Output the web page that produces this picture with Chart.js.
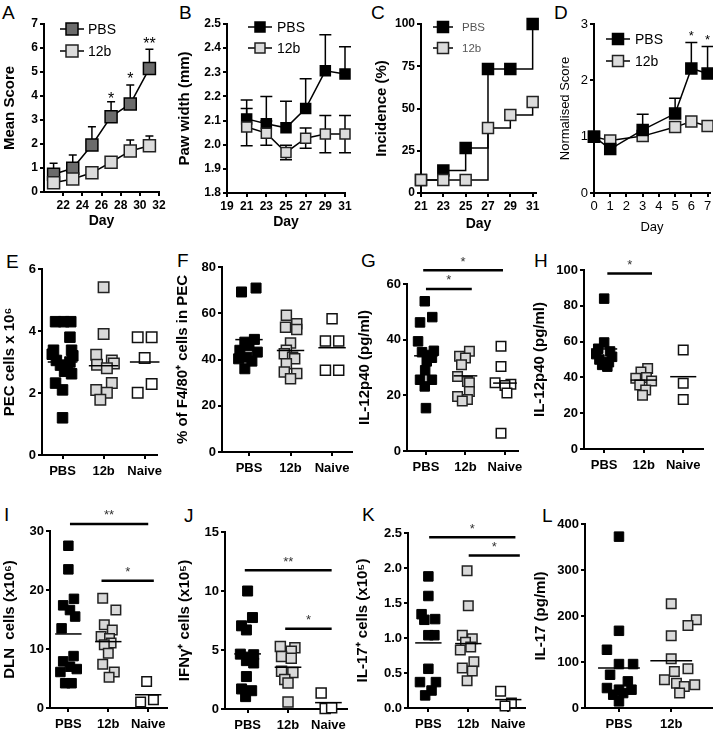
<!DOCTYPE html>
<html>
<head>
<meta charset="utf-8">
<script src="https://cdn.jsdelivr.net/npm/chart.js@4"></script>
<style>
  body { margin: 0; width: 713px; height: 729px; background: #fff; position: relative; overflow: hidden;
         font-family: "Liberation Sans", Arial, sans-serif; }
  canvas { position: absolute; }
  .lt { position: absolute; font-size: 19px; line-height: 19px; color: #000; }
</style>
</head>
<body>
<div class="lt" style="left:2px;top:3px">A</div>
<div class="lt" style="left:179px;top:3px">B</div>
<div class="lt" style="left:371px;top:3px">C</div>
<div class="lt" style="left:554px;top:3px">D</div>
<div class="lt" style="left:6px;top:252px">E</div>
<div class="lt" style="left:177px;top:251px">F</div>
<div class="lt" style="left:361px;top:251px">G</div>
<div class="lt" style="left:534px;top:251px">H</div>
<div class="lt" style="left:4px;top:505px">I</div>
<div class="lt" style="left:184px;top:506px">J</div>
<div class="lt" style="left:362px;top:505px">K</div>
<div class="lt" style="left:542px;top:506px">L</div>
<script>
// ---------- data ----------
// A: mean score
const aDays = [21, 23, 25, 27, 29, 31];
const aPBS = [0.74, 0.99, 1.96, 3.14, 3.67, 5.15];
const aPBSErr = [0.46, 0.55, 0.76, 0.62, 0.79, 0.80];
const a12b = [0.39, 0.54, 0.80, 1.24, 1.71, 1.93];
const a12bErr = [0.35, 0.27, 0.10, 0.12, 0.46, 0.40];
const aXTicks = [22, 24, 26, 28, 30, 32];
const aYTicks = [0, 1, 2, 3, 4, 5, 6, 7];
const aStars = [[27, 4.05, '*'], [29, 4.88, '*'], [31, 6.36, '**']];

// B: paw width
const bDays = [21, 23, 25, 27, 29, 31];
const bPBS = [2.107, 2.087, 2.07, 2.15, 2.306, 2.293];
const bPBSErr = [0.078, 0.113, 0.11, 0.123, 0.149, 0.113];
const b12b = [2.073, 2.048, 1.968, 2.027, 2.044, 2.044];
const b12bErr = [0.077, 0.05, 0.03, 0.042, 0.077, 0.077];
const bXTicks = [19, 21, 23, 25, 27, 29, 31];
const bYTicks = [1.8, 1.9, 2.0, 2.1, 2.2, 2.3, 2.4, 2.5];

// C: incidence
const cDays = [21, 23, 25, 27, 29, 31];
const cPBS = [7.7, 13.3, 26.7, 73.3, 73.3, 100];
const c12b = [7.7, 7.7, 7.7, 38.5, 46.2, 53.8];
const cXTicks = [21, 23, 25, 27, 29, 31];
const cYTicks = [0, 25, 50, 75, 100];

// D: normalised score
const dDays = [0, 1, 3, 5, 6, 7];
const dPBS = [1.0, 0.78, 1.12, 1.41, 2.21, 2.12];
const dPBSErr = [0, 0, 0.28, 0.27, 0.46, 0.48];
const d12b = [1.0, 0.93, 1.01, 1.17, 1.27, 1.19];
const dXTicks = [0, 1, 2, 3, 4, 5, 6, 7];
const dYTicks = [0, 1, 2, 3];
const dStars = [[6, 2.85, '*'], [7, 2.78, '*']];

// scatter panels: values and horizontal scatter (category units)
const cats3 = ['PBS', '12b', 'Naive'];
const cats2 = ['PBS', '12b'];

const ePBS = [4.3, 4.3, 4.3, 3.8, 3.38, 3.38, 3.25, 3.2, 3.05, 3.0, 2.9, 2.85, 2.7, 2.62, 2.32, 2.1, 1.2];
const ePBSdx = [-0.17, 0.03, 0.2, 0.18, -0.22, 0.22, -0.25, 0.25, -0.15, 0.18, -0.05, 0.12, 0.05, 0.22, -0.17, 0, 0];
const e12b = [5.41, 3.9, 3.23, 3.05, 2.95, 2.91, 2.8, 2.32, 2.1, 2.01, 1.78];
const e12bdx = [0, 0, -0.18, 0.2, 0.25, -0.16, 0.08, 0.2, -0.18, 0.08, -0.08];
const eNaive = [3.8, 3.8, 3.13, 2.01, 2.29];
const eNaivedx = [-0.17, 0.17, 0, -0.17, 0.17];
const eMeans = [3.0, 2.88, 3.0];
const eYTicks = [0, 2, 4, 6];

const fPBS = [70.9, 69.2, 48.7, 47.5, 46.0, 44.0, 43.2, 41.0, 40.3, 39.3, 36.0];
const fPBSdx = [0.17, -0.18, 0.13, -0.1, 0, -0.22, 0.2, -0.05, -0.25, 0.07, -0.1];
const f12b = [59.1, 55.5, 54.0, 53.0, 47.1, 44.0, 42.5, 41.0, 40.3, 38.2, 34.6, 33.9, 31.7];
const f12bdx = [-0.1, 0.15, -0.12, 0.15, 0, -0.1, -0.15, 0.05, 0.1, -0.1, -0.15, 0.15, 0];
const fNaive = [57.6, 48, 48, 35.3, 35.3];
const fNaivedx = [0, -0.16, 0.16, -0.16, 0.16];
const fMeans = [48.6, 43.9, 45.1];
const fYTicks = [0, 20, 40, 60, 80];

const gPBS = [53.8, 48.1, 46.2, 39.4, 36.0, 35.5, 34.5, 33.5, 32.2, 29.0, 25.6, 25.6, 23.2, 15.4];
const gPBSdx = [-0.03, 0.16, -0.15, -0.2, 0.2, -0.1, 0.05, 0.15, 0.02, -0.02, -0.15, 0.15, -0.03, 0];
const g12b = [35.8, 34.0, 33.4, 31.0, 26.8, 25.0, 24.5, 21.4, 19.6, 18.5, 18.0];
const g12bdx = [0.1, -0.15, 0, -0.1, -0.2, 0.05, 0.1, 0.1, -0.2, 0.05, -0.08];
const gNaive = [37.6, 30.4, 24.5, 24.0, 23.5, 20.8, 6.4];
const gNaivedx = [-0.1, -0.1, -0.25, 0.15, 0, 0.05, -0.1];
const gMeans = [34.2, 27.0, 24.4];
const gYTicks = [0, 20, 40, 60];
const gSig = [[0.93, 2.95, 64.9, '*'], [1.0, 2.16, 58.2, '*']];

const hPBS = [84, 59.5, 56, 54.5, 53, 51.5, 50, 48.5, 47, 46];
const hPBSdx = [0, 0, -0.15, 0.15, -0.2, 0.2, -0.12, 0.12, -0.05, 0.08];
const h12b = [45, 43, 40, 39.5, 38, 35.8, 33, 30];
const h12bdx = [0.1, -0.07, 0.07, -0.2, 0.2, -0.1, 0.05, -0.03];
const hNaive = [55.3, 36.7, 27.7];
const hNaivedx = [0, 0, 0];
const hMeans = [55.9, 38.5, 40.4];
const hYTicks = [0, 20, 40, 60, 80, 100];
const hSig = [[1.08, 2.21, 98.1, '*']];

const iPBS = [27.5, 23.5, 18.5, 17.4, 16.6, 15.5, 13.5, 8.8, 7.9, 7.0, 6.6, 6.1, 4.2, 4.2];
const iPBSdx = [0, 0, 0.14, -0.13, 0.04, 0.17, -0.17, 0.13, -0.13, 0.04, 0.21, -0.2, 0.08, -0.08];
const i12b = [18.6, 16.6, 14.1, 13.2, 12.1, 11.8, 11.0, 10.7, 9.3, 7.4, 6.1, 5.2];
const i12bdx = [-0.14, 0.19, -0.1, 0.1, -0.18, 0.03, 0.07, -0.1, 0, -0.14, 0.15, 0.02];
const iNaive = [4.5, 1.4, 1.0];
const iNaivedx = [-0.04, 0.13, -0.19];
const iMeans = [12.55, 11.25, 2.25];
const iYTicks = [0, 10, 20, 30];
const iSig = [[1.04, 3.0, 31.2, '**'], [1.83, 3.14, 21.55, '*']];

const jPBS = [10.0, 7.75, 7.05, 6.7, 4.65, 4.6, 4.4, 4.1, 3.9, 2.75, 1.7, 1.55, 1.05];
const jPBSdx = [0, 0.12, -0.15, -0.03, -0.18, 0.15, 0, -0.03, 0.15, -0.03, -0.15, 0.1, -0.05];
const j12b = [5.3, 5.2, 4.9, 4.45, 4.3, 3.2, 3.1, 2.5, 2.2, 0.6];
const j12bdx = [-0.19, 0.17, 0.08, -0.16, 0.08, -0.16, 0.12, -0.08, 0, 0];
const jNaive = [1.35, 0.05, 0.1];
const jNaivedx = [-0.18, -0.08, 0.08];
const jMeans = [4.67, 3.54, 0.54];
const jYTicks = [0, 5, 10, 15];
const jSig = [[0.93, 3.08, 11.75, '**'], [1.93, 3.08, 6.8, '*']];

const kPBS = [1.88, 1.60, 1.34, 1.26, 1.27, 1.04, 1.04, 0.56, 0.37, 0.37, 0.25, 0.18];
const kPBSdx = [0, 0, -0.17, -0.1, 0.17, 0, 0.15, 0, -0.21, 0.19, 0.08, -0.08];
const k12b = [1.96, 1.46, 1.04, 0.99, 0.94, 0.87, 0.83, 0.66, 0.57, 0.53, 0.39];
const k12bdx = [-0.03, 0, -0.15, 0.1, -0.07, 0.06, -0.2, 0.14, -0.15, 0.1, -0.03];
const kNaive = [0.24, 0.07, 0.03];
const kNaivedx = [-0.19, 0.08, -0.08];
const kMeans = [0.93, 0.92, 0.12];
const kYTicks = [0, 0.5, 1.0, 1.5, 2.0, 2.5];
const kSig = [[1.02, 3.18, 2.44, '*'], [2.01, 3.29, 2.18, '*']];

const lPBS = [372.5, 167.8, 126.6, 95.5, 95.5, 72.3, 57.9, 43.4, 39.8, 39.8, 32.5, 28.9, 14.5];
const lPBSdx = [0, 0, -0.23, 0, 0.27, -0.17, 0.17, -0.23, 0, 0.24, 0.08, -0.11, 0];
const l12b = [226.4, 191.7, 179.4, 157, 107, 85.4, 79.6, 61.5, 54, 50.6, 47, 32.5];
const l12bdx = [0, 0.48, 0.32, 0, 0, 0.32, 0.06, -0.13, 0.1, 0.45, 0.25, 0.16];
const lMeans = [86.8, 102.7];
const lYTicks = [0, 100, 200, 300, 400];

// ---------- drawing ----------
const FONT = "'Liberation Sans', Arial, sans-serif";
Chart.defaults.font.family = FONT;
Chart.defaults.color = '#000';
Chart.defaults.animation = false;
Chart.defaults.events = [];
Chart.defaults.plugins.legend.display = false;
Chart.defaults.plugins.tooltip.enabled = false;

const GROUP = {
  PBS: { bg: '#000', bd: '#000', bw: 1 },
  '12b': { bg: '#d9d9d9', bd: '#222', bw: 1.5 },
  Naive: { bg: '#fff', bd: '#111', bw: 1.5 }
};

function scaleCfg(o) {
  return {
    type: 'linear', min: o.min, max: o.max,
    afterBuildTicks: s => { s.ticks = o.ticks.map(v => ({ value: v })); },
    afterFit: s => { if (o.horiz) s.height = o.px; else s.width = o.px; },
    ticks: { autoSkip: false, maxRotation: 0, padding: o.pad || 2, color: '#000',
             font: { size: o.size, weight: o.weight }, callback: o.fmt || (v => String(v)) },
    grid: { drawOnChartArea: false, tickLength: 4, tickWidth: 2, tickColor: '#000', lineWidth: 2, color: '#000' },
    border: { display: true, color: '#000', width: 2 },
    title: { display: !!o.title, text: o.title, padding: 0, color: '#000',
             font: { size: o.tSize, weight: o.tWeight } }
  };
}

function addCanvas(left, top, right, bottom) {
  const cv = document.createElement('canvas');
  cv.width = right - left; cv.height = bottom - top;
  cv.style.left = left + 'px'; cv.style.top = top + 'px';
  document.body.appendChild(cv);
  return cv;
}

const errPlugin = {
  id: 'errbars',
  beforeDatasetsDraw(chart) {
    const { ctx, scales: { x, y } } = chart;
    chart.data.datasets.forEach(ds => {
      if (!ds.err) return;
      ctx.save();
      ctx.strokeStyle = '#000'; ctx.lineWidth = 1.5;
      ds.data.forEach((p, i) => {
        const e = ds.err[i];
        if (!e) return;
        const px = x.getPixelForValue(p.x), cap = ds.cap;
        const ends = ds.errBoth ? [p.y + e, p.y - e] : [p.y + e];
        ends.forEach(v => {
          const py = y.getPixelForValue(v);
          ctx.beginPath();
          ctx.moveTo(px, y.getPixelForValue(p.y)); ctx.lineTo(px, py);
          ctx.moveTo(px - cap, py); ctx.lineTo(px + cap, py);
          ctx.stroke();
        });
      });
      ctx.restore();
    });
  }
};

function starPlugin(points, bars, size, color, lift) {
  return {
    id: 'stars',
    afterDatasetsDraw(chart) {
      const { ctx, scales: { x, y } } = chart;
      ctx.save();
      ctx.fillStyle = color;
      ctx.font = size + 'px ' + FONT;
      ctx.textAlign = 'center'; ctx.textBaseline = 'alphabetic';
      points.forEach(p => ctx.fillText(p[2], x.getPixelForValue(p[0]), y.getPixelForValue(p[1]) + 0.575 * size));
      bars.forEach(b => ctx.fillText(b[3], x.getPixelForValue((b[0] + b[1]) / 2),
                                     y.getPixelForValue(b[2]) - lift + 0.575 * size));
      ctx.restore();
    }
  };
}

function keyPlugin(k) {
  return {
    id: 'key',
    afterDatasetsDraw(chart) {
      const { ctx, chartArea: a } = chart;
      chart.data.datasets.filter(d => d.keyLabel).sort((p, q) => p.keyRank - q.keyRank).forEach((d, i) => {
        const cx = a.left + k.x, cy = a.top + k.y + i * k.gap, s = d.side;
        ctx.save();
        ctx.strokeStyle = '#000'; ctx.lineWidth = 1.5;
        ctx.beginPath(); ctx.moveTo(cx - k.len, cy); ctx.lineTo(cx + k.len, cy); ctx.stroke();
        ctx.fillStyle = d.pointBackgroundColor;
        ctx.fillRect(cx - s / 2, cy - s / 2, s, s);
        ctx.strokeStyle = d.pointBorderColor; ctx.lineWidth = d.pointBorderWidth;
        ctx.strokeRect(cx - s / 2, cy - s / 2, s, s);
        ctx.fillStyle = k.color;
        ctx.font = k.size + 'px ' + FONT;
        ctx.textAlign = 'left'; ctx.textBaseline = 'middle';
        ctx.fillText(d.keyLabel, cx + k.dx, cy + 1);
        ctx.restore();
      });
    }
  };
}

function linePanel(o) {
  const left = Math.round(o.titleX - o.tSize * 0.6), top = o.area[1] - 40, right = o.area[2] + 14;
  const bottom = Math.round(o.xTitleY + o.xtSize * 0.6);
  const cv = addCanvas(left, top, right, bottom);
  const datasets = o.series.map(s => ({
    label: s.label, keyLabel: s.label, keyRank: s.rank,
    data: s.x.map((d, i) => ({ x: d, y: s.y[i] })),
    err: s.err, errBoth: s.both, cap: o.cap, side: s.side,
    showLine: true, stepped: s.stepped || false, tension: 0,
    borderColor: '#000', borderWidth: 1.5, backgroundColor: s.bg,
    pointStyle: 'rect', pointRadius: s.side / Math.SQRT2,
    pointBackgroundColor: s.bg, pointBorderColor: s.bd, pointBorderWidth: 1.5,
    order: s.order, clip: false
  }));
  new Chart(cv, {
    type: 'scatter',
    data: { datasets },
    options: {
      responsive: false,
      layout: { padding: { left: 0, top: 40, right: 14, bottom: 0 } },
      scales: {
        x: scaleCfg({ min: o.xMin, max: o.xMax, ticks: o.xTicks, size: o.tick, weight: o.weight,
                      px: bottom - o.area[3], horiz: true, title: o.xTitle, tSize: o.xtSize, tWeight: o.weight }),
        y: scaleCfg({ min: o.yMin, max: o.yMax, ticks: o.yTicks, size: o.tick, weight: o.weight, fmt: o.yFmt,
                      px: o.area[0] - left, title: o.yTitle, tSize: o.tSize, tWeight: o.weight })
      }
    },
    plugins: [errPlugin, keyPlugin(o.key), starPlugin(o.stars || [], [], o.starSize || 14, '#000', 0)]
  });
}

function dotPanel(o) {
  const left = Math.round(o.titleX - 9), top = o.area[1] - 40, right = o.area[2] + 14, bottom = o.area[3] + 30;
  const cv = addCanvas(left, top, right, bottom);
  const datasets = [];
  o.groups.forEach((g, i) => {
    const st = GROUP[o.cats[i]];
    datasets.push({
      data: g[0].map((v, k) => ({ x: i + 1 + g[1][k], y: v })),
      pointStyle: 'rect', pointRadius: o.side / Math.SQRT2,
      pointBackgroundColor: st.bg, pointBorderColor: st.bd, pointBorderWidth: st.bw,
      order: 2, clip: false
    });
    datasets.push({
      showLine: true, data: [{ x: i + 1 - o.half, y: o.means[i] }, { x: i + 1 + o.half, y: o.means[i] }],
      borderColor: '#000', borderWidth: 1.5, pointRadius: 0, order: 1, clip: false
    });
  });
  (o.sig || []).forEach(b => datasets.push({
    showLine: true, data: [{ x: b[0], y: b[2] }, { x: b[1], y: b[2] }],
    borderColor: '#000', borderWidth: 2.5, pointRadius: 0, order: 0, clip: false
  }));
  new Chart(cv, {
    type: 'scatter',
    data: { datasets },
    options: {
      responsive: false,
      layout: { padding: { left: 0, top: 40, right: 14, bottom: 0 } },
      scales: {
        x: scaleCfg({ min: o.xMin, max: o.xMax, ticks: o.cats.map((c, i) => i + 1), size: 13, weight: 'bold',
                      fmt: v => o.cats[Math.round(v) - 1], px: 30, horiz: true, pad: 5 }),
        y: scaleCfg({ min: o.yTicks[0], max: o.yTicks[o.yTicks.length - 1], ticks: o.yTicks, size: 13,
                      weight: 'bold', fmt: o.yFmt, px: o.area[0] - left, title: o.yTitle, tSize: 15, tWeight: 'bold' })
      }
    },
    plugins: [starPlugin([], o.sig || [], 13, '#333', 12)]
  });
}

// ---------- row 1 ----------
linePanel({
  area: [44, 24, 159, 192], titleX: 10, xTitleY: 222, tSize: 15, xtSize: 14, tick: 12, weight: 'bold',
  xMin: 20, xMax: 32, xTicks: aXTicks, yMin: 0, yMax: 7, yTicks: aYTicks,
  yTitle: 'Mean Score', xTitle: 'Day', cap: 4, stars: aStars, starSize: 16,
  key: { x: 28, y: 5, gap: 22, len: 12, dx: 16, size: 14, color: '#000' },
  series: [
    { label: 'PBS', rank: 0, x: aDays, y: aPBS, err: aPBSErr, bg: '#6b6b6b', bd: '#000', side: 12, order: 1 },
    { label: '12b', rank: 1, x: aDays, y: a12b, err: a12bErr, bg: '#dcdcdc', bd: '#222', side: 12, order: 0 }
  ]
});

linePanel({
  area: [227, 24, 345, 193], titleX: 185, xTitleY: 223, tSize: 15, xtSize: 14, tick: 12, weight: 'bold',
  xMin: 19, xMax: 31, xTicks: bXTicks, yMin: 1.8, yMax: 2.5, yTicks: bYTicks, yFmt: v => v.toFixed(1),
  yTitle: 'Paw width (mm)', xTitle: 'Day', cap: 6,
  key: { x: 33, y: 3, gap: 21, len: 12, dx: 17, size: 14, color: '#000' },
  series: [
    { label: 'PBS', rank: 0, x: bDays, y: bPBS, err: bPBSErr, bg: '#000', bd: '#000', side: 10, order: 1 },
    { label: '12b', rank: 1, x: bDays, y: b12b, err: b12bErr, both: true, bg: '#dcdcdc', bd: '#222', side: 10, order: 0 }
  ]
});

linePanel({
  area: [421, 24, 536, 193], titleX: 382, xTitleY: 225, tSize: 15, xtSize: 14, tick: 12, weight: 'bold',
  xMin: 21, xMax: 31.3, xTicks: cXTicks, yMin: 0, yMax: 100, yTicks: cYTicks,
  yTitle: 'Incidence (%)', xTitle: 'Day', cap: 0,
  key: { x: 22, y: 3, gap: 21, len: 10, dx: 19, size: 11.5, color: '#555' },
  series: [
    { label: 'PBS', rank: 0, x: cDays, y: cPBS, stepped: true, bg: '#000', bd: '#000', side: 11, order: 1 },
    { label: '12b', rank: 1, x: cDays, y: c12b, stepped: true, bg: '#dcdcdc', bd: '#222', side: 11, order: 0 }
  ]
});

linePanel({
  area: [594, 24, 710, 193], titleX: 566, xTitleY: 227, tSize: 13, xtSize: 13, tick: 13, weight: 'normal',
  xMin: 0, xMax: 7.15, xTicks: dXTicks, yMin: 0, yMax: 3, yTicks: dYTicks,
  yTitle: 'Normalised Score', xTitle: 'Day', cap: 6, stars: dStars, starSize: 13,
  key: { x: 24, y: 15, gap: 22, len: 12, dx: 17, size: 14, color: '#000' },
  series: [
    { label: 'PBS', rank: 0, x: dDays, y: dPBS, err: dPBSErr, bg: '#000', bd: '#000', side: 11, order: 0 },
    { label: '12b', rank: 1, x: dDays, y: d12b, bg: '#dcdcdc', bd: '#222', side: 11, order: 1 }
  ]
});

// ---------- rows 2 and 3 ----------
dotPanel({ area: [42, 269, 157, 455], titleX: 10, xMin: 0.5, xMax: 3.3, cats: cats3, side: 10.5, half: 0.36,
  groups: [[ePBS, ePBSdx], [e12b, e12bdx], [eNaive, eNaivedx]], means: eMeans, yTicks: eYTicks,
  yTitle: 'PEC cells x 10\u2076' });
dotPanel({ area: [222, 267, 352, 452], titleX: 183, xMin: 0.35, xMax: 3.48, cats: cats3, side: 10, half: 0.33,
  groups: [[fPBS, fPBSdx], [f12b, f12bdx], [fNaive, fNaivedx]], means: fMeans, yTicks: fYTicks,
  yTitle: '% of F4/80\u207A cells in PEC' });
dotPanel({ area: [407, 284, 518, 451], titleX: 365, xMin: 0.52, xMax: 3.33, cats: cats3, side: 9.5, half: 0.3,
  groups: [[gPBS, gPBSdx], [g12b, g12bdx], [gNaive, gNaivedx]], means: gMeans, yTicks: gYTicks, sig: gSig,
  yTitle: 'IL-12p40 (pg/ml)' });
dotPanel({ area: [584, 270, 703, 449], titleX: 540, xMin: 0.49, xMax: 3.5, cats: cats3, side: 9.5, half: 0.33,
  groups: [[hPBS, hPBSdx], [h12b, h12bdx], [hNaive, hNaivedx]], means: hMeans, yTicks: hYTicks, sig: hSig,
  yTitle: 'IL-12p40 (pg/ml)' });
dotPanel({ area: [50, 531, 167, 708], titleX: 10, xMin: 0.54, xMax: 3.47, cats: cats3, side: 9.5, half: 0.33,
  groups: [[iPBS, iPBSdx], [i12b, i12bdx], [iNaive, iNaivedx]], means: iMeans, yTicks: iYTicks, sig: iSig,
  yTitle: 'DLN  cells (x10\u2076)' });
dotPanel({ area: [225, 532, 347, 709], titleX: 185, xMin: 0.44, xMax: 3.46, cats: cats3, side: 10, half: 0.33,
  groups: [[jPBS, jPBSdx], [j12b, j12bdx], [jNaive, jNaivedx]], means: jMeans, yTicks: jYTicks, sig: jSig,
  yTitle: 'IFN\u03B3\u207A cells (x10\u2075)' });
dotPanel({ area: [408, 533, 525, 708], titleX: 363, xMin: 0.49, xMax: 3.42, cats: cats3, side: 9.5, half: 0.33,
  groups: [[kPBS, kPBSdx], [k12b, k12bdx], [kNaive, kNaivedx]], means: kMeans, yTicks: kYTicks, sig: kSig,
  yFmt: v => v.toFixed(1), yTitle: 'IL-17\u207A cells (x10\u2075)' });
dotPanel({ area: [585, 524, 712, 708], titleX: 541, xMin: 0.35, xMax: 2.78, cats: cats2, side: 9.5, half: 0.4,
  groups: [[lPBS, lPBSdx], [l12b, l12bdx]], means: lMeans, yTicks: lYTicks,
  yTitle: 'IL-17 (pg/ml)' });
</script>
</body>
</html>
